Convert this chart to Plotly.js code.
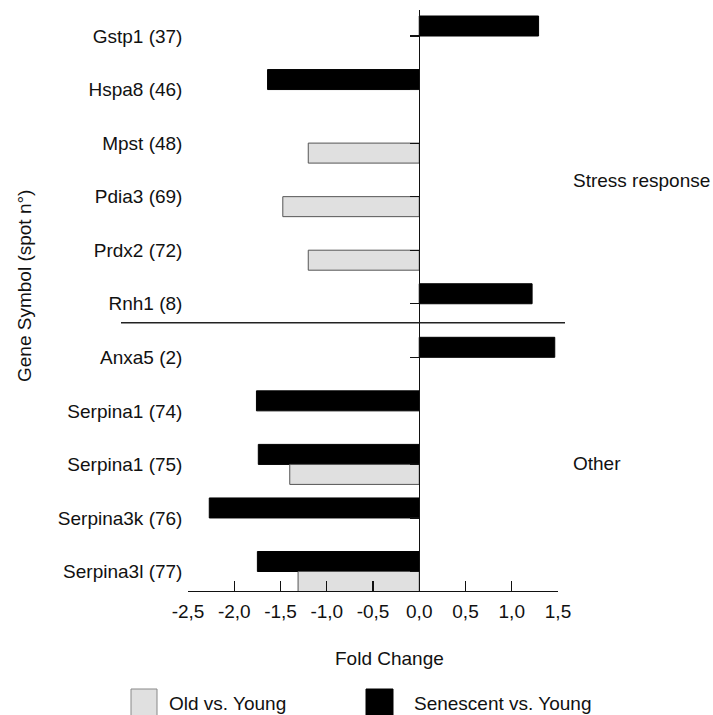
<!DOCTYPE html>
<html>
<head>
<meta charset="utf-8">
<script src="https://cdn.plot.ly/plotly-3.0.1.min.js"></script>
<style>html,body{margin:0;padding:0;background:#fff;}#chart{width:713px;height:715px;}</style>
</head>
<body>
<div id="chart"></div>
<script>
// ---- data ----
const categories = ['Gstp1 (37)','Hspa8 (46)','Mpst (48)','Pdia3 (69)','Prdx2 (72)','Rnh1 (8)',
                    'Anxa5 (2)','Serpina1 (74)','Serpina1 (75)','Serpina3k (76)','Serpina3l (77)'];
const senescentVsYoung = [1.29, -1.64, null, null, null, 1.22, 1.465, -1.76, -1.74, -2.27, -1.75];
const oldVsYoung       = [null, null, -1.20, -1.475, -1.20, null, null, null, -1.40, null, -1.31];
const xTickValues = [-2.5, -2.0, -1.5, -1.0, -0.5, 0.0, 0.5, 1.0, 1.5];
const xTickLabels = ['-2,5','-2,0','-1,5','-1,0','-0,5','0,0','0,5','1,0','1,5'];
const groupLabels = ['Stress response', 'Other'];
const seriesNames = ['Old vs. Young', 'Senescent vs. Young'];

// ---- geometry helpers (pixels -> paper) ----
const W = 713, H = 715, L = 188, R = 558, T = 10, B = 591;
const px = x => (x - L) / (R - L);
const py = y => (B - y) / (B - T);
const yRange = [10.364, -0.4855];
const FONT = 'Liberation Sans, Arial, sans-serif';

const traces = [
  { type: 'bar', orientation: 'h', name: seriesNames[1], y: categories, x: senescentVsYoung,
    marker: { color: '#000000', line: { color: '#000000', width: 1 } }, hoverinfo: 'x+y' },
  { type: 'bar', orientation: 'h', name: seriesNames[0], y: categories, x: oldVsYoung,
    marker: { color: '#e0e0e0', line: { color: '#555555', width: 1 } }, hoverinfo: 'x+y' }
];

const layout = {
  width: W, height: H,
  margin: { l: L, r: W - R, t: T, b: H - B, pad: 0 },
  paper_bgcolor: '#ffffff', plot_bgcolor: '#ffffff',
  font: { family: FONT, size: 19, color: '#111111' },
  barmode: 'group', bargap: 0.253, bargroupgap: 0,
  showlegend: false,
  xaxis: {
    range: [-2.5, 1.5], autorange: false, automargin: false,
    tickvals: xTickValues, ticktext: xTickLabels,
    ticks: 'inside', ticklen: 10, tickcolor: '#111', tickwidth: 1.2,
    showline: true, linecolor: '#111', linewidth: 1.2,
    showgrid: false, zeroline: false, ticklabelstandoff: 3,
    tickfont: { size: 19, family: FONT, color: '#111' }
  },
  yaxis: {
    type: 'category', categoryorder: 'array', categoryarray: categories,
    range: yRange, autorange: false, automargin: false,
    anchor: 'free', position: px(419.25), side: 'left',
    showline: true, linecolor: '#111', linewidth: 1.2,
    ticks: 'outside', ticklen: 9, tickcolor: '#111', tickwidth: 1.2,
    ticklabelstandoff: 224,
    showgrid: false, zeroline: false,
    tickfont: { size: 19, family: FONT, color: '#111' }
  },
  shapes: [
    { type: 'line', xref: 'paper', yref: 'y', x0: px(121), x1: px(565), y0: 5.354, y1: 5.354,
      line: { color: '#222', width: 1.5 } },
    { type: 'rect', xref: 'paper', yref: 'paper', x0: px(131), x1: px(157), y0: py(689), y1: py(722),
      fillcolor: '#e0e0e0', line: { color: '#888', width: 1 } },
    { type: 'rect', xref: 'paper', yref: 'paper', x0: px(366), x1: px(393), y0: py(689), y1: py(722),
      fillcolor: '#000000', line: { color: '#000', width: 1 } }
  ],
  annotations: [
    { text: 'Gene Symbol (spot n°)', xref: 'paper', yref: 'paper', x: px(24), y: py(286),
      textangle: -90, showarrow: false, xanchor: 'center', yanchor: 'middle', font: { size: 19 } },
    { text: 'Fold Change', xref: 'paper', yref: 'paper', x: px(389), y: py(658),
      showarrow: false, xanchor: 'center', yanchor: 'middle', font: { size: 19 } },
    { text: groupLabels[0], xref: 'paper', yref: 'paper', x: px(571), y: py(181),
      showarrow: false, xanchor: 'left', yanchor: 'middle', font: { size: 19 } },
    { text: groupLabels[1], xref: 'paper', yref: 'paper', x: px(571), y: py(463),
      showarrow: false, xanchor: 'left', yanchor: 'middle', font: { size: 19 } },
    { text: seriesNames[0], xref: 'paper', yref: 'paper', x: px(167), y: py(703),
      showarrow: false, xanchor: 'left', yanchor: 'middle', font: { size: 19 } },
    { text: seriesNames[1], xref: 'paper', yref: 'paper', x: px(412), y: py(703),
      showarrow: false, xanchor: 'left', yanchor: 'middle', font: { size: 19 } }
  ]
};

Plotly.newPlot('chart', traces, layout, { displayModeBar: false, staticPlot: true });
</script>
</body>
</html>
